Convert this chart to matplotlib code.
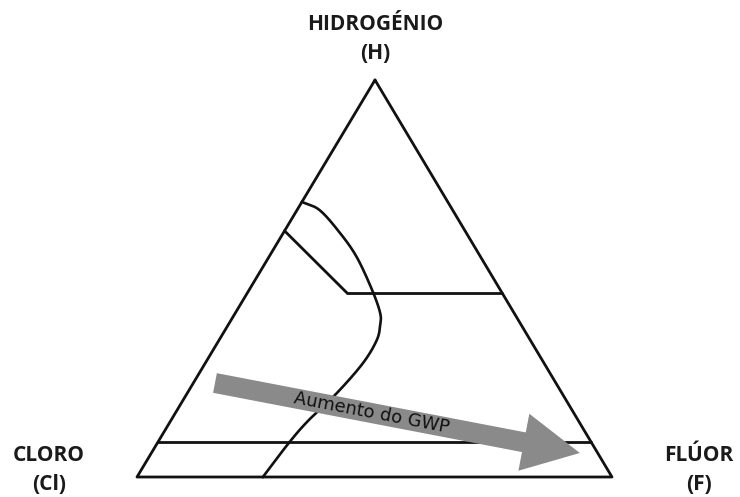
"""
Ternary diagram of halogenated hydrocarbons (H / Cl / F) with GWP trend arrow
"""
import numpy as np
import matplotlib
matplotlib.use('Agg')
import matplotlib.pyplot as plt
from matplotlib.patches import FancyArrow

# Compositions as (H, F) fractions; Cl = 1 - H - F
curve_h = [0.693, 0.672, 0.615, 0.554, 0.471, 0.413, 0.383, 0.345, 0.287, 0.212, 0.144, 0.088, 0.0]
curve_f = [0.0, 0.048, 0.119, 0.185, 0.259, 0.305, 0.320, 0.332, 0.332, 0.315, 0.290, 0.277, 0.265]

upper_h = 0.4635          # horizontal line (constant H)
upper_f_start = 0.21      # where the diagonal meets it
diag_h_start = 0.62       # diagonal starts on the H-Cl edge
lower_h = 0.088           # lower horizontal line

arrow_tail = (0.2368, 0.0455)
arrow_tip = (0.0605, 0.902)

corner_labels = ['HIDROGÉNIO\n(H)', 'CLORO\n(Cl)', 'FLÚOR\n(F)']
arrow_label = 'Aumento do GWP'

# corner positions on the canvas (pixel-like units)
TOP = np.array([375.0, 80.0])
LEFT = np.array([137.0, 477.0])
RIGHT = np.array([612.0, 477.0])


def tern(h, f):
    h = np.asarray(h, dtype=float)
    f = np.asarray(f, dtype=float)
    cl = 1.0 - h - f
    x = h * TOP[0] + cl * LEFT[0] + f * RIGHT[0]
    y = h * TOP[1] + cl * LEFT[1] + f * RIGHT[1]
    return x, y


def smooth(x, y, n=20):
    # Catmull-Rom through the given points so the boundary draws as a curve
    p = np.column_stack([x, y])
    p = np.vstack([2 * p[0] - p[1], p, 2 * p[-1] - p[-2]])
    out = []
    t = np.linspace(0, 1, n, endpoint=False)[:, None]
    for i in range(1, len(p) - 2):
        p0, p1, p2, p3 = p[i - 1], p[i], p[i + 1], p[i + 2]
        seg = 0.5 * ((2 * p1) + (-p0 + p2) * t + (2 * p0 - 5 * p1 + 4 * p2 - p3) * t ** 2
                     + (-p0 + 3 * p1 - 3 * p2 + p3) * t ** 3)
        out.append(seg)
    out.append(p[-2][None, :])
    out = np.vstack(out)
    return out[:, 0], out[:, 1]


fig = plt.figure(figsize=(7.4, 4.97), dpi=100)
ax = fig.add_axes([0, 0, 1, 1])
ax.set_xlim(0, 740)
ax.set_ylim(497, 0)
ax.axis('off')

line_kw = dict(color='#111111', linewidth=2.0, solid_capstyle='round', solid_joinstyle='round')

# outer triangle
tx, ty = tern([1, 0, 0, 1], [0, 0, 1, 0])
ax.plot(tx, ty, **line_kw)

# upper horizontal: from diagonal end to F-H edge
ux, uy = tern([upper_h, upper_h], [upper_f_start, 1 - upper_h])
ax.plot(ux, uy, **line_kw)

# diagonal from H-Cl edge down to the horizontal
dx_, dy_ = tern([diag_h_start, upper_h], [0.0, upper_f_start])
ax.plot(dx_, dy_, **line_kw)

# lower horizontal across the whole triangle
lx, ly = tern([lower_h, lower_h], [0.0, 1 - lower_h])
ax.plot(lx, ly, **line_kw)

# curved boundary
cx, cy = tern(curve_h, curve_f)
sx, sy = smooth(cx, cy)
ax.plot(sx, sy, color='#111111', linewidth=1.9)

# GWP arrow
ax0, ay0 = tern(*arrow_tail)
ax1, ay1 = tern(*arrow_tip)
arrow = FancyArrow(ax0, ay0, ax1 - ax0, ay1 - ay0, width=20, head_width=58,
                   head_length=57, length_includes_head=True,
                   facecolor='#8a8a8a', edgecolor='none', zorder=3)
ax.add_patch(arrow)

ang = -np.degrees(np.arctan2(ay1 - ay0, ax1 - ax0))
frac = 0.43
ax.text(ax0 + frac * (ax1 - ax0), ay0 + frac * (ay1 - ay0), arrow_label,
        rotation=ang, rotation_mode='anchor', ha='center', va='center',
        fontsize=13, color='#111111', family='DejaVu Sans', zorder=4)

# corner labels
label_kw = dict(ha='center', va='center', fontsize=15, fontweight='bold',
                family='Open Sans', color='#1a1a1a', linespacing=1.55)
ax.text(375, 39, corner_labels[0], **label_kw)
ax.text(49, 470, corner_labels[1], **label_kw)
ax.text(699, 470, corner_labels[2], **label_kw)

fig.savefig('out.png', dpi=100, facecolor='white')
plt.close(fig)
